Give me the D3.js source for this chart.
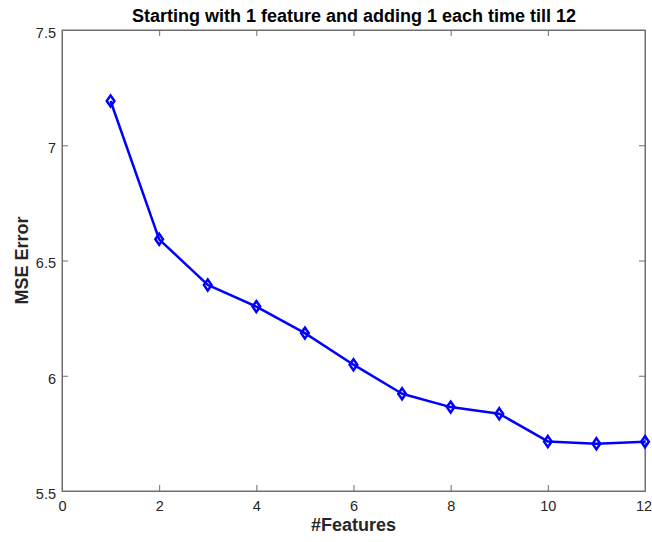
<!DOCTYPE html>
<html><head><meta charset="utf-8">
<script src="https://cdn.jsdelivr.net/npm/d3@7"></script>
<style>body{margin:0;background:#fff;}svg{display:block;}</style>
</head><body>
<svg id="c" width="652" height="542"></svg>
<script>
const features = [1,2,3,4,5,6,7,8,9,10,11,12];
const mseError = [7.192,6.592,6.394,6.300,6.185,6.048,5.922,5.864,5.835,5.715,5.705,5.714];
const xTicks = [0,2,4,6,8,10,12];
const yTicks = [5.5,6,6.5,7,7.5];
const titleText = "Starting with 1 feature and adding 1 each time till 12";
const xLabel = "#Features";
const yLabel = "MSE Error";

const svg = d3.select("#c");
const L=62, R=645, T=30, B=491;
const x = d3.scaleLinear().domain([0,12]).range([L,R]);
const y = d3.scaleLinear().domain([5.5,7.5]).range([B,T]);
const axisCol = "#6e6e6e";
const font = "'Liberation Sans', Arial, sans-serif";

svg.append("rect").attr("x",L).attr("y",T).attr("width",R-L).attr("height",B-T)
  .attr("fill","#fff").attr("stroke",axisCol).attr("stroke-width",1);

const tl = 6;
const gx = svg.append("g").attr("transform",`translate(0,${B})`)
  .call(d3.axisBottom(x).tickValues(xTicks).tickFormat(d3.format("d")).tickSizeInner(-tl).tickSizeOuter(0).tickPadding(10));
const gxt = svg.append("g").attr("transform",`translate(0,${T})`)
  .call(d3.axisTop(x).tickValues(xTicks).tickFormat("").tickSizeInner(-tl).tickSizeOuter(0));
const gy = svg.append("g").attr("transform",`translate(${L},0)`)
  .call(d3.axisLeft(y).tickValues(yTicks).tickFormat(d=>String(d)).tickSizeInner(-tl).tickSizeOuter(0).tickPadding(6));
const gyr = svg.append("g").attr("transform",`translate(${R},0)`)
  .call(d3.axisRight(y).tickValues(yTicks).tickFormat("").tickSizeInner(-tl).tickSizeOuter(0));
[gx,gxt,gy,gyr].forEach(g=>{
  g.select(".domain").attr("stroke",axisCol);
  g.selectAll(".tick line").attr("stroke",axisCol);
  g.selectAll(".tick text").attr("fill","#262626").style("font-family",font).style("font-size","14.5px");
});
gy.selectAll(".tick text").attr("dy","0.5em");
gx.selectAll(".tick text").filter(d=>d===12).attr("dx","-1.5");

const line = d3.line().x((d,i)=>x(features[i])).y(d=>y(d));
svg.append("path").datum(mseError).attr("d",line).attr("fill","none")
  .attr("stroke","#0000ff").attr("stroke-width",2.5).attr("stroke-linejoin","round");

const sym = d3.symbol().type(d3.symbolDiamond).size(35);
svg.selectAll(".mk").data(mseError).enter().append("path")
  .attr("transform",(d,i)=>`translate(${x(features[i])},${y(d)}) scale(1.2,1)`)
  .attr("d",sym).attr("fill","none").attr("stroke","#0000ff").attr("stroke-width",2.2);

svg.append("text").attr("x",354).attr("y",22).attr("text-anchor","middle")
  .style("font-family",font).style("font-size","18px").style("font-weight","bold").attr("fill","#000")
  .text(titleText);
svg.append("text").attr("x",(L+R)/2).attr("y",531).attr("text-anchor","middle")
  .style("font-family",font).style("font-size","18px").style("font-weight","bold").attr("fill","#262626")
  .text(xLabel);
svg.append("text").attr("transform",`translate(28,${(T+B)/2}) rotate(-90)`).attr("text-anchor","middle")
  .style("font-family",font).style("font-size","18px").style("font-weight","bold").attr("fill","#262626")
  .text(yLabel);
</script>
</body></html>
